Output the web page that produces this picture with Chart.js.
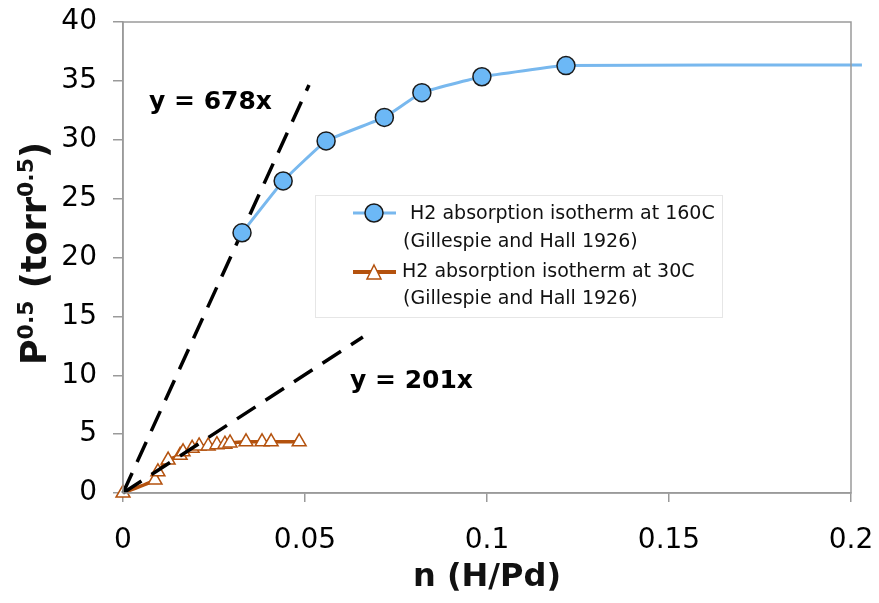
<!DOCTYPE html>
<html>
<head>
<meta charset="utf-8">
<script src="https://cdn.jsdelivr.net/npm/chart.js@4.4.1/dist/chart.umd.min.js"></script>
<style>
  html, body { margin: 0; padding: 0; background: #ffffff; }
  #wrap { width: 879px; height: 603px; }
</style>
</head>
<body>
<div id="wrap"><canvas id="c" width="879" height="603"></canvas></div>
<script>
// Hydrogen absorption isotherms in palladium (Gillespie and Hall 1926)
const n160 = [0.0327, 0.0440, 0.0558, 0.0718, 0.0821, 0.0986, 0.1217, 0.2030];
const p160 = [22.1, 26.5, 29.9, 31.9, 34.0, 35.35, 36.3, 36.35];
const n30 = [0, 0.0088, 0.0096, 0.0124, 0.0157, 0.0165, 0.0190, 0.0209, 0.0234,
             0.0258, 0.0280, 0.0294, 0.0338, 0.0382, 0.0407, 0.0484];
const p30 = [0, 1.1, 1.8, 2.8, 3.2, 3.5, 3.8, 4.0, 4.0,
             4.1, 4.15, 4.25, 4.35, 4.35, 4.35, 4.35];

// Initial-slope lines through the origin
const slopeSteep = 678;
const slopeShallow = 201;
const fitSteepN = [0, 0.0511];
const fitShallowN = [0, 0.0659];

const xTickLabels = ['0', '0.05', '0.1', '0.15', '0.2'];
const yTickLabels = ['0', '5', '10', '15', '20', '25', '30', '35', '40'];
const legend160 = [' H2 absorption isotherm at 160C', '(Gillespie and Hall 1926)'];
const legend30 = ['H2 absorption isotherm at 30C', '(Gillespie and Hall 1926)'];
const steepLabel = 'y = 678x';
const shallowLabel = 'y = 201x';
const xTitle = 'n (H/Pd)';

const BLUE_LINE = '#78b8ee';
const BLUE_FILL = '#6cb8f6';
const RUST = '#b4520e';
const FONT = '"DejaVu Sans", Verdana, sans-serif';

const pts = (xs, ys) => xs.map((x, i) => ({ x: x, y: ys[i] }));
const fitPts = (xs, k) => xs.map(x => ({ x: x, y: k * x }));

// marker only on measured points, not on the trailing plateau end
const blueRadius = n160.map((_, i) => (i === n160.length - 1 ? 0 : 9));

const framePlugin = {
  id: 'frame',
  afterDraw(chart) {
    const ctx = chart.ctx;
    const a = chart.chartArea;
    ctx.save();
    // plot border
    ctx.strokeStyle = '#9a9a9a';
    ctx.lineWidth = 1.5;
    ctx.strokeRect(a.left, a.top, a.right - a.left, a.bottom - a.top);

    // slope annotations
    ctx.fillStyle = '#000';
    ctx.font = 'bold 25px ' + FONT;
    ctx.textBaseline = 'middle';
    ctx.textAlign = 'left';
    ctx.fillText(steepLabel, 149, 102);
    ctx.fillText(shallowLabel, 350, 381);

    // legend box
    const lx = 315, ly = 195, lw = 407, lh = 122;
    ctx.fillStyle = '#ffffff';
    ctx.fillRect(lx, ly, lw, lh);
    ctx.strokeStyle = '#e6e6e6';
    ctx.lineWidth = 1;
    ctx.strokeRect(lx + 0.5, ly + 0.5, lw, lh);

    // entry 1: blue line + circle
    ctx.strokeStyle = BLUE_LINE;
    ctx.lineWidth = 3;
    ctx.beginPath(); ctx.moveTo(353, 213); ctx.lineTo(396, 213); ctx.stroke();
    ctx.beginPath(); ctx.arc(374, 213, 9, 0, Math.PI * 2);
    ctx.fillStyle = BLUE_FILL; ctx.fill();
    ctx.strokeStyle = '#1a1a1a'; ctx.lineWidth = 1.5; ctx.stroke();

    // entry 2: rust line + open triangle
    ctx.strokeStyle = RUST;
    ctx.lineWidth = 4;
    ctx.beginPath(); ctx.moveTo(353, 272); ctx.lineTo(396, 272); ctx.stroke();
    ctx.beginPath();
    ctx.moveTo(374, 265); ctx.lineTo(381, 279); ctx.lineTo(367, 279); ctx.closePath();
    ctx.fillStyle = '#ffffff'; ctx.fill();
    ctx.lineWidth = 1.5; ctx.stroke();

    ctx.fillStyle = '#111';
    ctx.font = '19px ' + FONT;
    ctx.fillText(legend160[0], 404, 214);
    ctx.fillText(legend160[1], 403, 242);
    ctx.fillText(legend30[0], 402, 272);
    ctx.fillText(legend30[1], 403, 299);

    // x axis title
    ctx.font = 'bold 32px ' + FONT;
    ctx.textAlign = 'center';
    ctx.fillText(xTitle, (a.left + a.right) / 2, 578);

    // y axis title with superscripts, rotated
    const parts = [
      ['P', false], ['0.5', true], [' (torr', false], ['0.5', true], [')', false]
    ];
    const big = 'bold 35px ' + FONT, small = 'bold 22px ' + FONT;
    let total = 0;
    parts.forEach(p => { ctx.font = p[1] ? small : big; total += ctx.measureText(p[0]).width; });
    ctx.translate(34, (a.top + a.bottom) / 2 - 4);
    ctx.rotate(-Math.PI / 2);
    ctx.textAlign = 'left';
    ctx.textBaseline = 'alphabetic';
    let cx = -total / 2;
    parts.forEach(p => {
      ctx.font = p[1] ? small : big;
      ctx.fillText(p[0], cx, p[1] ? -1 : 12);
      cx += ctx.measureText(p[0]).width;
    });
    ctx.restore();
  }
};

new Chart(document.getElementById('c'), {
  type: 'scatter',
  data: {
    datasets: [
      {
        label: legend160.join(' '),
        data: pts(n160, p160),
        showLine: true,
        borderColor: BLUE_LINE,
        borderWidth: 3,
        backgroundColor: BLUE_FILL,
        pointBorderColor: '#1a1a1a',
        pointBorderWidth: 1.5,
        pointRadius: blueRadius,
        pointStyle: 'circle',
        tension: 0.1,
        clip: false,
        order: 0
      },
      {
        label: steepLabel,
        data: fitPts(fitSteepN, slopeSteep),
        showLine: true,
        borderColor: '#000',
        borderWidth: 3.5,
        borderDash: [22, 12],
        pointRadius: 0,
        clip: false,
        order: 1
      },
      {
        label: shallowLabel,
        data: fitPts(fitShallowN, slopeShallow),
        showLine: true,
        borderColor: '#000',
        borderWidth: 3.5,
        borderDash: [22, 12],
        pointRadius: 0,
        clip: false,
        order: 1
      },
      {
        label: legend30.join(' '),
        data: pts(n30, p30),
        showLine: true,
        borderColor: RUST,
        borderWidth: 3.5,
        backgroundColor: '#ffffff',
        pointBorderColor: RUST,
        pointBorderWidth: 1.5,
        pointRadius: 8,
        pointStyle: 'triangle',
        tension: 0.2,
        clip: false,
        order: 2
      }
    ]
  },
  options: {
    responsive: false,
    animation: false,
    devicePixelRatio: 1,
    layout: { padding: { top: 22, right: 28, left: 0, bottom: 0 } },
    plugins: {
      legend: { display: false },
      tooltip: { enabled: false }
    },
    scales: {
      x: {
        type: 'linear',
        min: 0,
        max: 0.2,
        ticks: {
          stepSize: 0.05,
          color: '#000',
          font: { family: FONT, size: 28 },
          padding: 22,
          maxRotation: 0,
          callback: (v, i) => xTickLabels[i]
        },
        grid: { drawOnChartArea: false, drawTicks: true, tickLength: 9, color: '#9a9a9a', lineWidth: 1.5 },
        border: { display: true, color: '#9a9a9a', width: 1.5 },
        afterFit: s => { s.height = 110; s.paddingLeft = 0; s.paddingRight = 0; }
      },
      y: {
        type: 'linear',
        min: 0,
        max: 40,
        ticks: {
          stepSize: 5,
          color: '#000',
          font: { family: FONT, size: 28 },
          padding: 16,
          callback: (v, i) => yTickLabels[i]
        },
        grid: { drawOnChartArea: false, drawTicks: true, tickLength: 10, color: '#9a9a9a', lineWidth: 1.5 },
        border: { display: true, color: '#9a9a9a', width: 1.5 },
        afterFit: s => { s.width = 123; s.paddingTop = 0; s.paddingBottom = 0; }
      }
    }
  },
  plugins: [framePlugin]
});
</script>
</body>
</html>
